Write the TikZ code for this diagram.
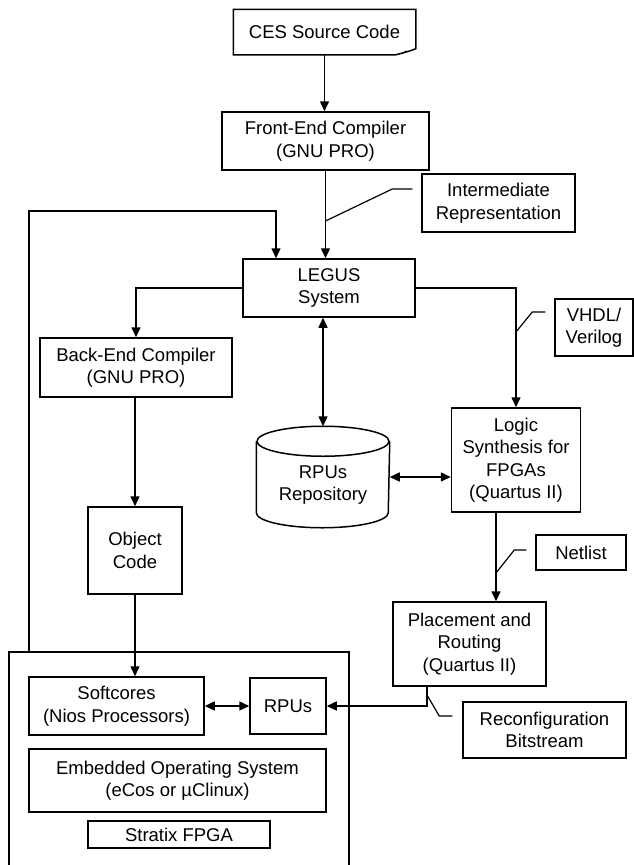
\documentclass[tikz,border=0pt]{standalone}
\usepackage{fontspec}
\setmainfont{Liberation Sans}
\usetikzlibrary{arrows.meta}
\begin{document}
\begin{tikzpicture}[x=1pt,y=-1pt,>={Triangle[length=10pt,width=9pt]},line width=1.5pt,
  font=\fontsize{18.5}{22.5}\selectfont,
  box/.style={draw,align=center,inner sep=0pt},
  leader/.style={line width=1.2pt}]
				\useasboundingbox (0,0) rectangle (634,865);
				% boxes
				\node[align=center,minimum width=181pt,minimum height=44pt,inner sep=0pt] (ces) at (324.5,32) {CES Source Code};
				\node[box,minimum width=207pt,minimum height=58pt] (front) at (325.5,141) {Front-End Compiler\\(GNU PRO)};
				\node[box,minimum width=153pt,minimum height=58pt] (interm) at (498.5,203) {Intermediate\\Representation};
				\node[box,minimum width=172pt,minimum height=58pt] (legus) at (329,288) {LEGUS\\System};
				\node[box,minimum width=192pt,minimum height=59pt] (back) at (136,367.5) {Back-End Compiler\\(GNU PRO)};
				\node[box,minimum width=78pt,minimum height=57pt] (vhdl) at (594,327.5) {VHDL/\\Verilog};
				\node[align=center,minimum width=132pt,minimum height=84pt,inner sep=0pt] (repo) at (323,485) {RPUs\\Repository};
				\node[box,minimum width=129pt,minimum height=104pt] (logic) at (516,460) {Logic\\Synthesis for\\FPGAs\\(Quartus II)};
				\node[box,minimum width=94pt,minimum height=87pt] (obj) at (135,550.5) {Object\\Code};
				\node[box,minimum width=90pt,minimum height=35pt] (netlist) at (581,552.5) {Netlist};
				\node[box,minimum width=153pt,minimum height=84pt] (place) at (469.5,644) {Placement and\\Routing\\(Quartus II)};
				\node[box,minimum width=163pt,minimum height=56pt] (reconf) at (544.5,730) {Reconfiguration\\Bitstream};
				\node[box,minimum width=175pt,minimum height=58pt] (soft) at (116.5,706) {Softcores\\(Nios Processors)};
				\node[box,minimum width=76pt,minimum height=56pt] (rpus) at (288,706) {RPUs};
				\node[box,minimum width=297pt,minimum height=63pt] (eos) at (177.5,780.5) {Embedded Operating System\\(eCos or µClinux)};
				\node[box,minimum width=182pt,minimum height=27pt] (stratix) at (179,834.5) {Stratix FPGA};
				% folded sheet outline
				\draw (ces.north west)--(ces.north east)--([yshift=6pt]ces.south east)
				  .. controls ([xshift=-8pt,yshift=3pt]ces.south east) .. ([xshift=-20pt]ces.south east)--(ces.south west)--cycle;
				\draw[line width=0.8pt] ([xshift=-13pt,yshift=2pt]ces.south east)--([xshift=-9pt,yshift=4pt]ces.south east);
				% repository drum
				\draw ([yshift=1pt]repo.north) ellipse[x radius=66pt,y radius=15pt];
				\draw ([yshift=1pt]repo.north west)--([yshift=15pt]repo.south west)
				  arc[start angle=180,end angle=360,x radius=66pt,y radius=15pt]--([yshift=1pt]repo.north east);
				\coordinate (top) at ([yshift=16pt]repo.north);
				% outer chip frame
				\coordinate (F) at (9,652);
				\draw (9,866)--(F)--(349,652)--(349,866);
				% flow
				\draw[->] (ces.south)--(ces.south |- front.north);
				\draw[->] (front.south)--(front.south |- legus.north);
				\coordinate (loop) at (276,211);
				\draw[->] (29,652) |- (loop)--(loop |- legus.north);
				\draw[->] (legus.west) -| (back.north);
				\draw[->] (legus.east) -| (logic.north);
				\draw[<->] (top |- legus.south)--(top);
				\draw[<->] ([yshift=8pt]repo.east)--([yshift=8pt]repo.east -| logic.west);
				\draw[->] (back.south -| obj.north)--(obj.north);
				\draw[->] (obj.south)--(obj.south |- soft.north);
				\draw[->] ([xshift=-20pt]logic.south)--([xshift=-20pt]logic.south |- place.north);
				\draw[<->] (soft.east)--(rpus.west);
				\coordinate (P) at ([xshift=-42.5pt]place.south);
				\draw[->] (P) |- (rpus.east);
				% callout leaders
				\draw[leader] ([xshift=-9pt,yshift=14pt]interm.west)--++(-20,0)--(front.south |- 0,221);
				\draw[leader] ([xshift=-9pt,yshift=15.5pt]vhdl.west)--++(-13,0)--(logic.north |- 0,332);
				\draw[leader] ([xshift=-9pt,yshift=2.5pt]netlist.west)--++(-12,0)--(496,573);
				\draw[leader] ([xshift=-10pt,yshift=14pt]reconf.west)--++(-13,0)--(P |- 0,695);
			\end{tikzpicture}
\end{document}
